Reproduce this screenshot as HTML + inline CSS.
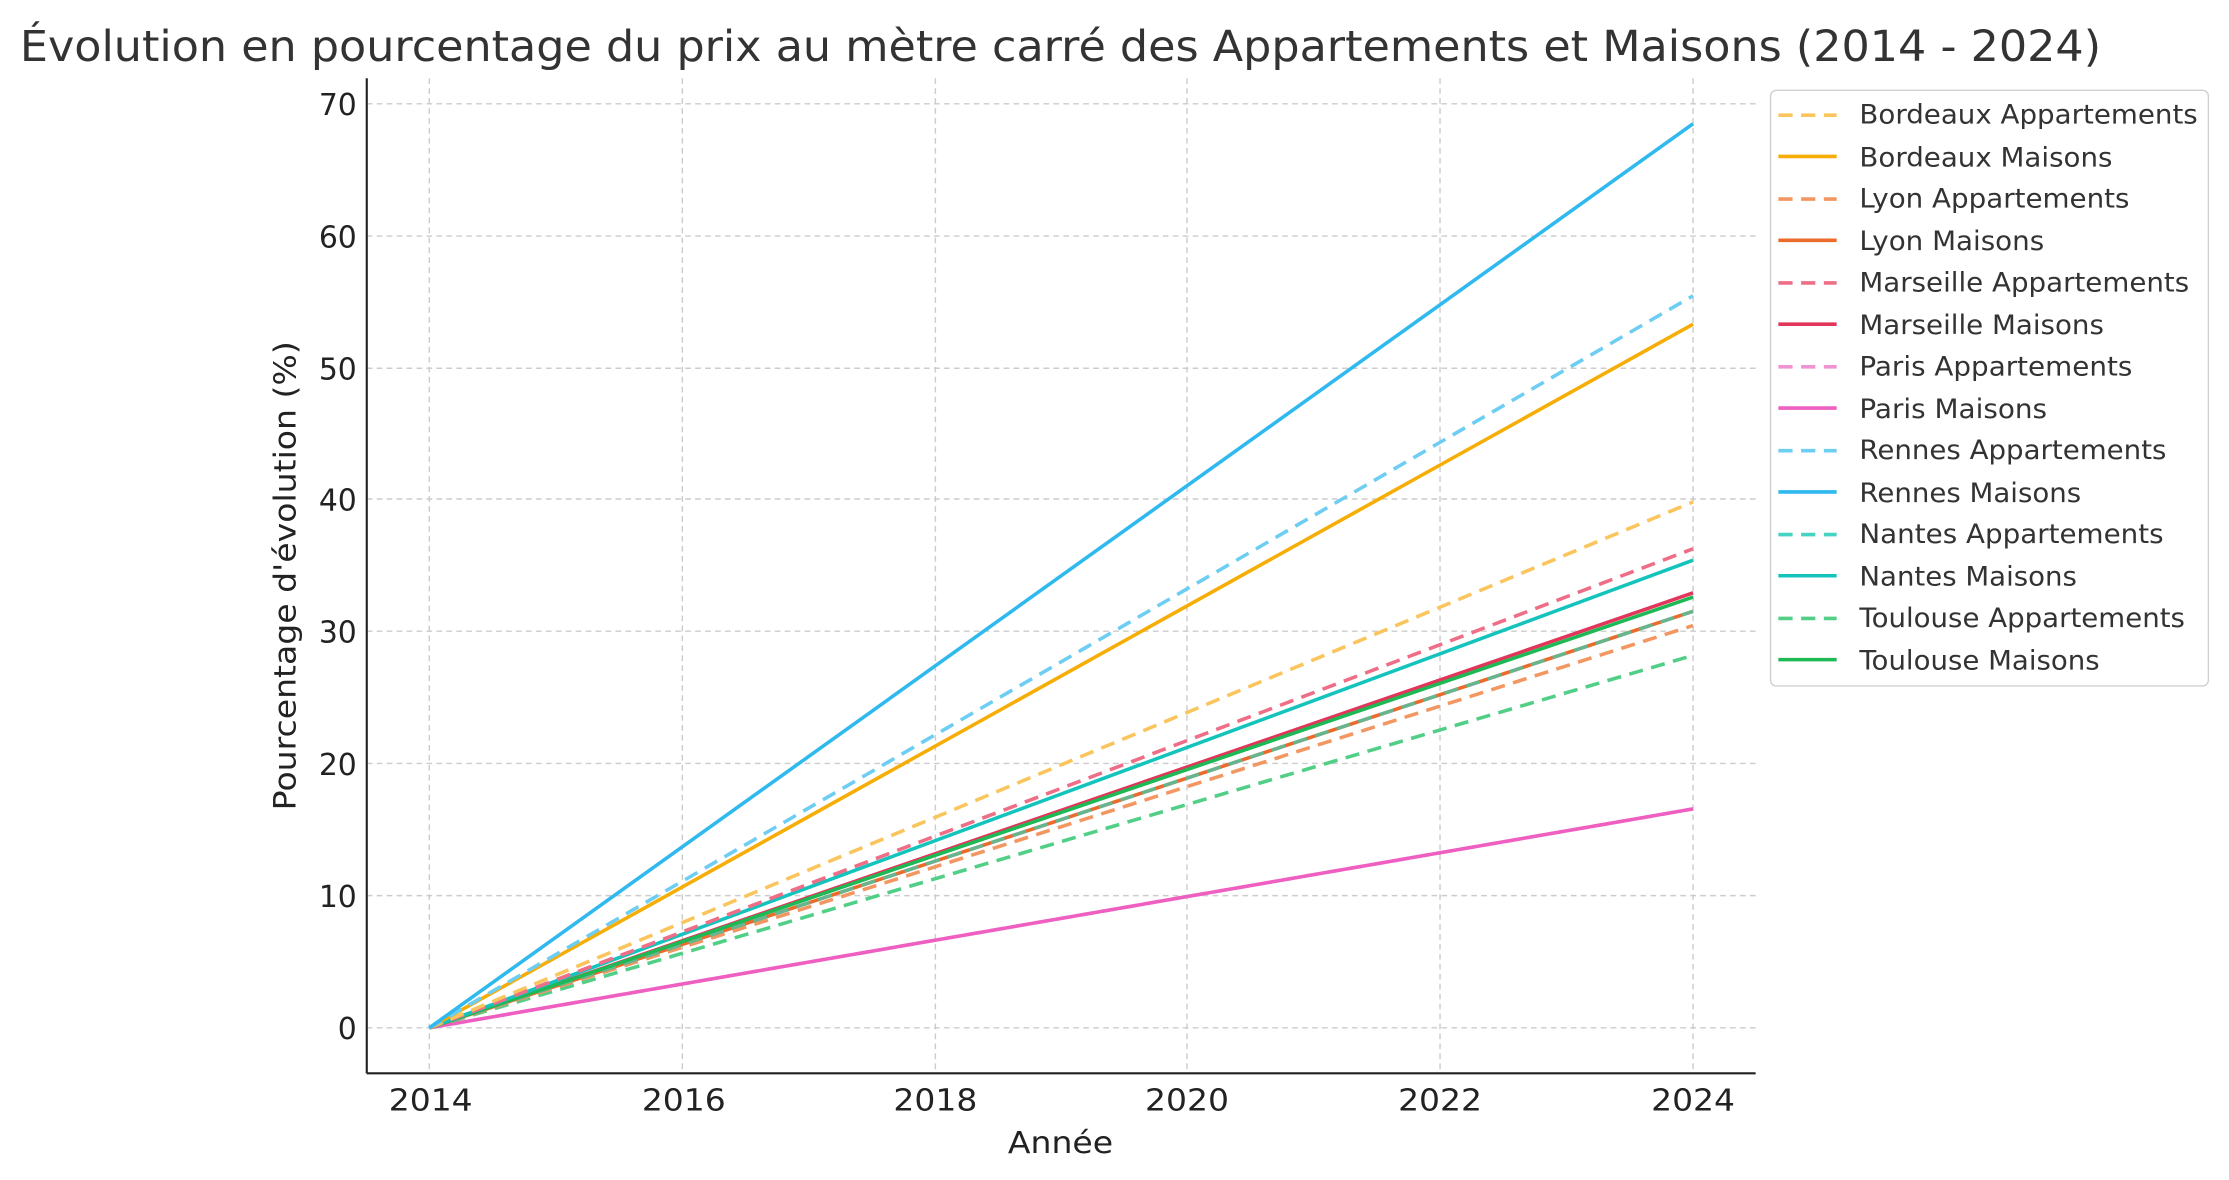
<!DOCTYPE html>
<html><head><meta charset="utf-8"><style>html,body{margin:0;padding:0;background:#fff}svg{display:block}</style></head>
<body>
<svg width="2229" height="1180" viewBox="0 0 1568 830" xmlns="http://www.w3.org/2000/svg" font-family="'DejaVu Sans','Liberation Sans',sans-serif">
<rect width="1568" height="830" fill="#fff"/>
<text x="14" y="43" font-size="30" fill="#333" textLength="1464" lengthAdjust="spacingAndGlyphs">Évolution en pourcentage du prix au mètre carré des Appartements et Maisons (2014 - 2024)</text>
<g stroke="#ccc" stroke-width="1" stroke-dasharray="4,3">
<line x1="258" x2="1235" y1="723" y2="723"/><line x1="258" x2="1235" y1="630" y2="630"/><line x1="258" x2="1235" y1="537" y2="537"/><line x1="258" x2="1235" y1="444" y2="444"/><line x1="258" x2="1235" y1="351" y2="351"/><line x1="258" x2="1235" y1="259" y2="259"/><line x1="258" x2="1235" y1="166" y2="166"/><line x1="258" x2="1235" y1="73" y2="73"/>
<line x1="302" x2="302" y1="55" y2="755"/><line x1="480" x2="480" y1="55" y2="755"/><line x1="658" x2="658" y1="55" y2="755"/><line x1="835" x2="835" y1="55" y2="755"/><line x1="1013" x2="1013" y1="55" y2="755"/><line x1="1191" x2="1191" y1="55" y2="755"/>
</g>
<g stroke="#222" stroke-width="1.5"><line x1="258" y1="55" x2="258" y2="755"/><line x1="258" y1="755" x2="1235" y2="755"/></g>
<g font-size="21" fill="#222" text-anchor="end">
<text x="251" y="731">0</text><text x="251" y="638">10</text><text x="251" y="545">20</text><text x="251" y="452">30</text><text x="251" y="359">40</text><text x="251" y="267">50</text><text x="251" y="174">60</text><text x="251" y="81">70</text></g>
<g font-size="21" fill="#222" text-anchor="middle">
<text x="303" y="781" textLength="59" lengthAdjust="spacingAndGlyphs">2014</text><text x="481" y="781" textLength="59" lengthAdjust="spacingAndGlyphs">2016</text><text x="658" y="781" textLength="59" lengthAdjust="spacingAndGlyphs">2018</text><text x="835" y="781" textLength="59" lengthAdjust="spacingAndGlyphs">2020</text><text x="1013" y="781" textLength="59" lengthAdjust="spacingAndGlyphs">2022</text><text x="1191" y="781" textLength="59" lengthAdjust="spacingAndGlyphs">2024</text>
<text x="746" y="811" textLength="74" lengthAdjust="spacingAndGlyphs">Année</text>
<text transform="translate(208,405) rotate(-90)" textLength="330" lengthAdjust="spacingAndGlyphs">Pourcentage d'évolution (%)</text></g>
<g stroke-width="2.5" fill="none">
<line x1="302" y1="723" x2="1191" y2="569" stroke="#f7a8d8" stroke-dasharray="10,6"/>
<line x1="302" y1="723" x2="1191" y2="569" stroke="#ee5fc1"/>
<line x1="302" y1="723" x2="1191" y2="461" stroke="#52cf86" stroke-dasharray="10,6"/>
<line x1="302" y1="723" x2="1191" y2="440" stroke="#f39762" stroke-dasharray="10,6"/>
<line x1="302" y1="723" x2="1191" y2="430" stroke="#ea6b2b"/>
<line x1="302" y1="723" x2="1191" y2="430" stroke="#46c8a8" stroke-dasharray="10,6" opacity="0.8"/>
<line x1="302" y1="723" x2="1191" y2="417" stroke="#e2355a"/>
<line x1="302" y1="723" x2="1191" y2="420" stroke="#1db954"/>
<line x1="302" y1="723" x2="1191" y2="394" stroke="#14c4bc"/>
<line x1="302" y1="723" x2="1191" y2="386" stroke="#ee6e87" stroke-dasharray="10,6"/>
<line x1="302" y1="723" x2="1191" y2="353" stroke="#fac55c" stroke-dasharray="10,6"/>
<line x1="302" y1="723" x2="1191" y2="228" stroke="#f6ad06"/>
<line x1="302" y1="723" x2="1191" y2="208" stroke="#6dcdf2" stroke-dasharray="10,6"/>
<line x1="302" y1="723" x2="1191" y2="87" stroke="#2fb9ee"/>
</g>
<rect x="1245.5" y="63.5" width="308" height="419" rx="4" fill="#fff" stroke="#d0d0d0"/>
<g stroke-width="2.5">
<line x1="1251" x2="1292" y1="81" y2="81" stroke="#fac55c" stroke-dasharray="10,6"/>
<line x1="1251" x2="1292" y1="110" y2="110" stroke="#f6ad06"/>
<line x1="1251" x2="1292" y1="140" y2="140" stroke="#f39762" stroke-dasharray="10,6"/>
<line x1="1251" x2="1292" y1="169" y2="169" stroke="#ea6b2b"/>
<line x1="1251" x2="1292" y1="199" y2="199" stroke="#ee6e87" stroke-dasharray="10,6"/>
<line x1="1251" x2="1292" y1="228" y2="228" stroke="#e2355a"/>
<line x1="1251" x2="1292" y1="258" y2="258" stroke="#f093d0" stroke-dasharray="10,6"/>
<line x1="1251" x2="1292" y1="287" y2="287" stroke="#ee5fc1"/>
<line x1="1251" x2="1292" y1="317" y2="317" stroke="#6dcdf2" stroke-dasharray="10,6"/>
<line x1="1251" x2="1292" y1="346" y2="346" stroke="#2fb9ee"/>
<line x1="1251" x2="1292" y1="376" y2="376" stroke="#46d3c4" stroke-dasharray="10,6"/>
<line x1="1251" x2="1292" y1="405" y2="405" stroke="#14c4bc"/>
<line x1="1251" x2="1292" y1="435" y2="435" stroke="#52cf86" stroke-dasharray="10,6"/>
<line x1="1251" x2="1292" y1="464" y2="464" stroke="#1db954"/>
</g>
<g font-size="19" fill="#333">
<text x="1308" y="87" textLength="238" lengthAdjust="spacingAndGlyphs">Bordeaux Appartements</text><text x="1308" y="117" textLength="178" lengthAdjust="spacingAndGlyphs">Bordeaux Maisons</text><text x="1308" y="146" textLength="190" lengthAdjust="spacingAndGlyphs">Lyon Appartements</text><text x="1308" y="176" textLength="130" lengthAdjust="spacingAndGlyphs">Lyon Maisons</text><text x="1308" y="205" textLength="232" lengthAdjust="spacingAndGlyphs">Marseille Appartements</text><text x="1308" y="235" textLength="172" lengthAdjust="spacingAndGlyphs">Marseille Maisons</text><text x="1308" y="264" textLength="192" lengthAdjust="spacingAndGlyphs">Paris Appartements</text><text x="1308" y="294" textLength="132" lengthAdjust="spacingAndGlyphs">Paris Maisons</text><text x="1308" y="323" textLength="216" lengthAdjust="spacingAndGlyphs">Rennes Appartements</text><text x="1308" y="353" textLength="156" lengthAdjust="spacingAndGlyphs">Rennes Maisons</text><text x="1308" y="382" textLength="214" lengthAdjust="spacingAndGlyphs">Nantes Appartements</text><text x="1308" y="412" textLength="153" lengthAdjust="spacingAndGlyphs">Nantes Maisons</text><text x="1308" y="441" textLength="229" lengthAdjust="spacingAndGlyphs">Toulouse Appartements</text><text x="1308" y="471" textLength="169" lengthAdjust="spacingAndGlyphs">Toulouse Maisons</text>
</g>
</svg>
</body></html>
